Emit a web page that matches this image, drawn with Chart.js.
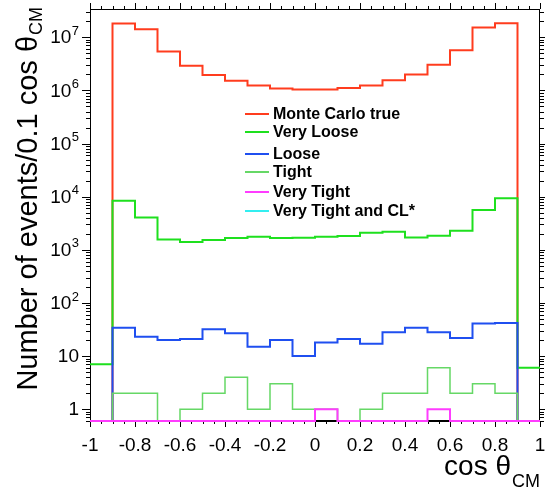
<!DOCTYPE html>
<html>
<head>
<meta charset="utf-8">
<script src="https://cdn.jsdelivr.net/npm/chart.js@4/dist/chart.umd.min.js"></script>
<style>
  html, body { margin: 0; padding: 0; background: #fff; }
  canvas { display: block; }
</style>
</head>
<body>
<canvas id="cosChart" width="545" height="490"></canvas>
<script>
// bin edges of cos(theta_CM), 0.1 wide
const binEdges = [-1, -0.9, -0.8, -0.7, -0.6, -0.5, -0.4, -0.3, -0.2, -0.1, 0,
                  0.1, 0.2, 0.3, 0.4, 0.5, 0.6, 0.7, 0.8, 0.9, 1];

// events per bin (20 bins)
const mcTrue = [0, 1.81e7, 1.42e7, 5.4e6, 2.9e6, 1.95e6, 1.52e6, 1.23e6, 1.09e6, 1.04e6,
                1.04e6, 1.11e6, 1.24e6, 1.55e6, 2.0e6, 3.05e6, 5.7e6, 1.52e7, 1.84e7, 0];
const veryLoose = [7, 8400, 4070, 1565, 1400, 1525, 1660, 1760, 1660, 1685,
                   1760, 1810, 2090, 2185, 1710, 1840, 2280, 5600, 9300, 6];
const loose = [0, 34, 23, 20, 21, 32, 27, 15, 20, 10,
               18, 21, 17, 28, 34, 28, 22, 41, 42, 0];
const tight = [0, 2, 2, 0, 1, 2, 4, 1, 3, 1,
               1, 0, 1, 2, 2, 6, 2, 3, 2, 0];
const veryTight = [0, 0, 0, 0, 0, 0, 0, 0, 0, 0,
                   1, 0, 0, 0, 0, 1, 0, 0, 0, 0];
const veryTightCL = [0, 0, 0, 0, 0, 0, 0, 0, 0, 0,
                     0, 0, 0, 0, 0, 0, 0, 0, 0, 0];

const seriesNames = ['Monte Carlo true', 'Very Loose', 'Loose', 'Tight', 'Very Tight', 'Very Tight and CL*'];
const xTickValues = [-1, -0.8, -0.6, -0.4, -0.2, 0, 0.2, 0.4, 0.6, 0.8, 1];
const yTickValues = [1, 10, 100, 1e3, 1e4, 1e5, 1e6, 1e7];

// styling
const Y_MIN = 0.6;     // empty bins sit on the frame bottom, like ROOT does
const Y_MAX = 3.4e7;
const FONT = "'Liberation Sans', Arial, Helvetica, sans-serif";
const colors = ['#ff3c1e', '#1ee01e', '#1f4ff0', '#66d866', '#ff3cff', '#33eef0'];
const widths = [2, 2, 2, 1.5, 2, 2];
const drawOrder = [6, 5, 4, 3, 1, 7];   // higher is drawn first; CL* goes under the frame
const legendRows = [114, 132, 154, 172, 192, 211];
const FRAME_AFTER = 5;                   // frame is stroked right after this dataset

const allSeries = [mcTrue, veryLoose, loose, tight, veryTight, veryTightCL];

function histPoints(values) {
  const pts = values.map((v, i) => ({ x: binEdges[i], y: v > 0 ? v : Y_MIN }));
  const last = values[values.length - 1];
  pts.push({ x: binEdges[binEdges.length - 1], y: last > 0 ? last : Y_MIN });
  return pts;
}

const datasets = allSeries.map((vals, i) => ({
  label: seriesNames[i],
  data: histPoints(vals),
  borderColor: colors[i],
  borderWidth: widths[i],
  stepped: 'before',
  pointRadius: 0,
  fill: false,
  order: drawOrder[i],
  clip: 3
}));

function drawFrame(chart) {
  const { ctx, chartArea: a } = chart;
  ctx.save();
  ctx.strokeStyle = '#000';
  ctx.lineWidth = 1;
  ctx.strokeRect(a.left + 0.5, a.top + 0.5, a.right - a.left - 1, a.bottom - a.top - 1);
  ctx.lineWidth = 2;
  ctx.beginPath();
  ctx.moveTo(a.left, a.bottom); ctx.lineTo(a.right, a.bottom);
  ctx.stroke();
  ctx.restore();
}

const framePlugin = {
  id: 'frame',
  beforeDatasetsDraw(chart) {
    const { ctx, chartArea: a, scales } = chart;
    const xs = scales.x, ys = scales.y;
    ctx.save();
    ctx.strokeStyle = '#000';
    ctx.lineWidth = 1;
    ctx.beginPath();
    // x ticks, outward on top and bottom
    for (let k = -20; k <= 20; k++) {
      const v = k * 0.05;
      const px = Math.round(xs.getPixelForValue(v)) + 0.5;
      const len = k % 4 === 0 ? 6 : 3;
      ctx.moveTo(px, a.bottom); ctx.lineTo(px, a.bottom + len);
      ctx.moveTo(px, a.top); ctx.lineTo(px, a.top - len);
    }
    // y ticks, outward on left and right
    for (let e = -1; e <= 7; e++) {
      for (let m = 1; m <= 9; m++) {
        const v = m * Math.pow(10, e);
        if (v < Y_MIN || v > Y_MAX) continue;
        const py = Math.round(ys.getPixelForValue(v)) + 0.5;
        const len = m === 1 ? 8 : 4;
        ctx.moveTo(a.left, py); ctx.lineTo(a.left - len, py);
        ctx.moveTo(a.right, py); ctx.lineTo(a.right + len, py);
      }
    }
    ctx.stroke();

    // y tick labels: 1, 10, then 10 with raised exponent
    ctx.fillStyle = '#000';
    ctx.textBaseline = 'middle';
    ctx.textAlign = 'right';
    yTickValues.forEach((v) => {
      const py = ys.getPixelForValue(v);
      const ex = Math.round(Math.log10(v));
      if (ex <= 1) {
        ctx.font = '19px ' + FONT;
        ctx.fillText(String(v), 79, py + 1);
      } else {
        ctx.font = '13px ' + FONT;
        const ew = ctx.measureText(String(ex)).width;
        ctx.fillText(String(ex), 79, py - 6);
        ctx.font = '19px ' + FONT;
        ctx.fillText('10', 79 - ew - 0.5, py + 1);
      }
    });
    ctx.restore();
  },
  afterDatasetDraw(chart, args) {
    if (args.index === FRAME_AFTER) drawFrame(chart);
  },
  afterDraw(chart) {
    const { ctx } = chart;
    ctx.save();
    ctx.fillStyle = '#000';

    // legend
    ctx.font = 'bold 16px ' + FONT;
    ctx.textBaseline = 'middle';
    ctx.textAlign = 'left';
    chart.data.datasets.forEach((ds, i) => {
      const y = legendRows[i];
      ctx.strokeStyle = ds.borderColor;
      ctx.lineWidth = 2;
      ctx.beginPath();
      ctx.moveTo(245, y); ctx.lineTo(269, y);
      ctx.stroke();
      ctx.fillText(ds.label, 273, y + 1);
    });

    // x title: cos theta_CM
    ctx.textBaseline = 'alphabetic';
    ctx.textAlign = 'right';
    ctx.font = '18px ' + FONT;
    const subW = ctx.measureText('CM').width;
    ctx.fillText('CM', 540, 487);
    ctx.font = '28px ' + FONT;
    ctx.fillText('cos θ', 540 - subW - 1, 475);

    // y title, rotated
    ctx.translate(37, 7);
    ctx.rotate(-Math.PI / 2);
    ctx.font = '18px ' + FONT;
    const subW2 = ctx.measureText('CM').width;
    ctx.fillText('CM', 0, 5);
    ctx.font = '29px ' + FONT;
    ctx.fillText('Number of events/0.1 cos θ', -subW2 - 1, 0);
    ctx.restore();
  }
};

new Chart(document.getElementById('cosChart'), {
  type: 'line',
  data: { datasets },
  options: {
    responsive: false,
    animation: false,
    layout: { padding: { top: 9, right: 5, left: 0, bottom: 0 } },
    plugins: { legend: { display: false }, tooltip: { enabled: false } },
    scales: {
      x: {
        type: 'linear',
        min: -1,
        max: 1,
        afterBuildTicks: (s) => { s.ticks = xTickValues.map((v) => ({ value: v })); },
        afterFit: (s) => { s.height = 69; s.paddingLeft = 0; s.paddingRight = 0; },
        grid: { display: false },
        border: { display: false },
        ticks: {
          autoSkip: false,
          maxRotation: 0,
          padding: 5,
          color: '#000',
          font: { family: FONT, size: 19 },
          callback: (v) => String(Math.round(v * 10) / 10)
        }
      },
      y: {
        type: 'logarithmic',
        min: Y_MIN,
        max: Y_MAX,
        afterBuildTicks: (s) => { s.ticks = yTickValues.map((v) => ({ value: v })); },
        afterFit: (s) => { s.width = 90; s.paddingTop = 0; s.paddingBottom = 0; },
        grid: { display: false },
        border: { display: false },
        ticks: { display: false }
      }
    }
  },
  plugins: [framePlugin]
});
</script>
</body>
</html>
